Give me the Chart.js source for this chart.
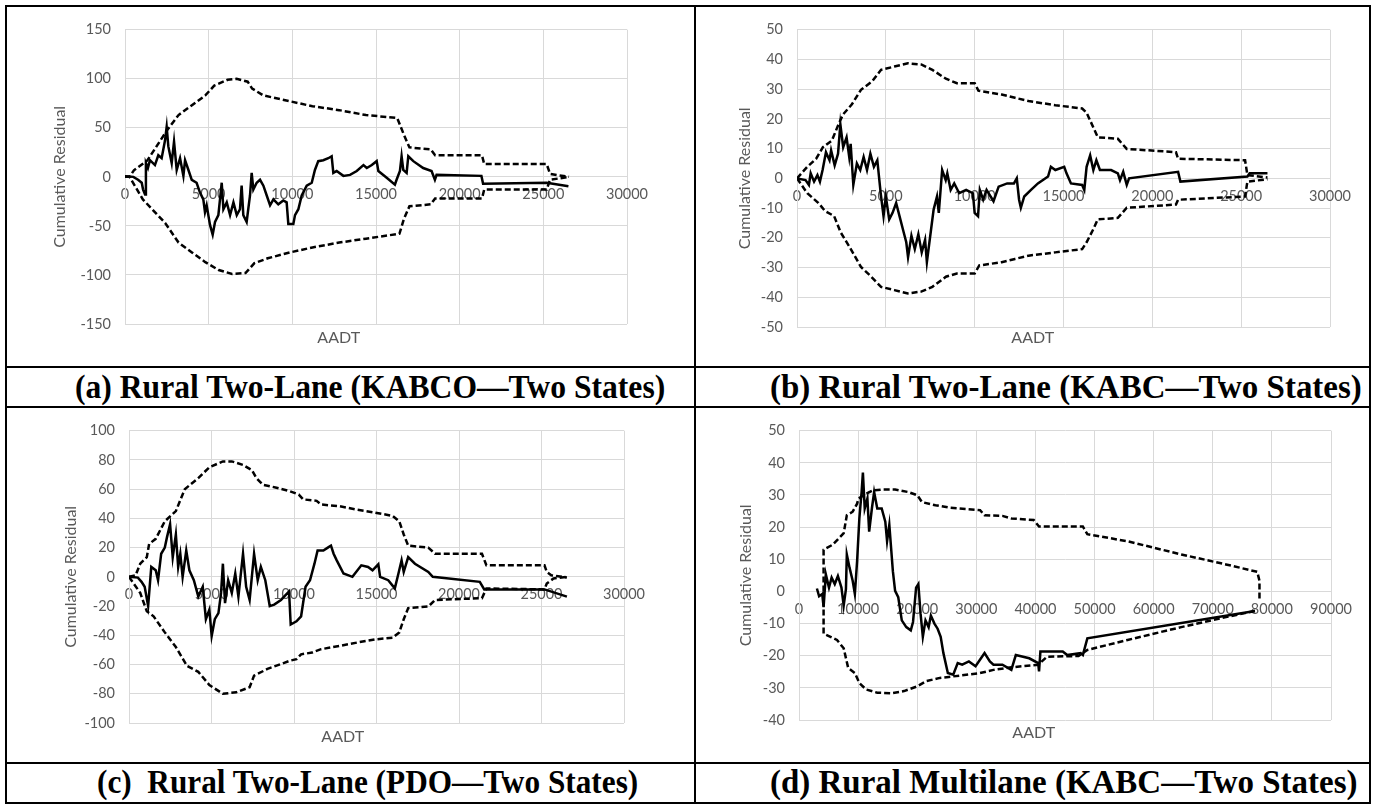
<!DOCTYPE html>
<html>
<head>
<meta charset="utf-8">
<script src="https://cdn.jsdelivr.net/npm/chart.js@4.4.1/dist/chart.umd.min.js"></script>
<style>
  html, body { margin: 0; padding: 0; background: #fff; }
  body { width: 1375px; height: 804px; position: relative; overflow: hidden; }
  .ln { position: absolute; background: #000; }
  canvas { position: absolute; }
  .cap { position: absolute; font-family: 'Liberation Serif', 'Times New Roman', serif; font-weight: bold;
         font-size: 34px; line-height: 34px; white-space: pre; color: #000; transform-origin: 0 0; }
</style>
</head>
<body>
<div class="ln" style="left:5px;top:5px;width:1366px;height:2px"></div>
<div class="ln" style="left:5px;top:366px;width:1366px;height:2px"></div>
<div class="ln" style="left:5px;top:406px;width:1366px;height:2px"></div>
<div class="ln" style="left:5px;top:762px;width:1366px;height:2px"></div>
<div class="ln" style="left:5px;top:802px;width:1366px;height:2px"></div>
<div class="ln" style="left:5px;top:5px;width:2px;height:799px"></div>
<div class="ln" style="left:694px;top:5px;width:2px;height:799px"></div>
<div class="ln" style="left:1369px;top:5px;width:2px;height:799px"></div>

<canvas id="cA"></canvas>
<canvas id="cB"></canvas>
<canvas id="cC"></canvas>
<canvas id="cD"></canvas>

<div class="cap" style="left:75px;top:370px;transform:scaleX(0.93)">(a) Rural Two-Lane (KABCO—Two States)</div>
<div class="cap" style="left:770px;top:370px;transform:scaleX(0.97)">(b) Rural Two-Lane (KABC—Two States)</div>
<div class="cap" style="left:97px;top:765px;transform:scaleX(0.92)">(c)  Rural Two-Lane (PDO—Two States)</div>
<div class="cap" style="left:770px;top:765px;transform:scaleX(0.97)">(d) Rural Multilane (KABC—Two States)</div>

<script>
// (a) Rural Two-Lane KABCO
var resA_x = [0,500,780,1000,1080,1200,1250,1370,1490,1790,1990,2190,2390,2490,2590,2790,2930,3090,3290,3490,3590,3790,3990,4280,4480,4680,4780,4880,5080,5240,5380,5580,5780,5880,6080,6280,6480,6680,6870,6970,7070,7270,7470,7570,7670,7870,8070,8270,8470,8670,8870,9160,9460,9660,9760,10060,10160,10360,10560,10860,11160,11350,11550,11850,12150,12350,12450,12650,13050,13450,13850,14250,14450,14750,15040,15140,15640,16130,16230,16430,16530,16630,16830,16930,17230,17820,18320,18520,18620,21300,21400,25200,26500];
var resA_y = [0.7,0,-3,-6,-13,-18,14,9,17,12,22,19,37,51,31,14,36,7,19,1,17,7,-3,-6,-16,-23,-36,-29,-49,-59,-46,-39,-6,-33,-26,-39,-26,-39,-33,-9,-39,-46,-19,4,-13,-6,-3,-9,-19,-29,-23,-28,-24,-26,-48,-48,-39,-33,-19,-9,-6,7,16,17,19,21,4,6,1,2,6,12,9,12,16,6,-1,-8,-3,6,21,7,4,21,16,9,6,-3,2,1,-7,-6,-9.5];
var upA_x = [0,270,533,1333,2533,3200,4000,4800,5333,6133,6667,7333,7600,8267,9867,11200,12800,14400,16267,16667,17000,18267,18533,21333,21467,25200,25400,26533];
var upA_y = [0,0,6.7,16.7,48,63,73,83,93,99,100,97,90,83,77,72,68,63,60,43,30,28,22,22,13,13,3,0];
var loA_x = [0,270,1067,2400,3200,4000,4800,5600,6400,7200,7733,8533,9867,11200,12800,14400,16400,16667,17000,18267,18533,21333,21467,25200,25400,26533];
var loA_y = [0,0,-23,-47,-67,-77,-87,-95,-99,-98,-88,-83,-77,-72,-67,-63,-58,-43,-30,-28,-22,-22,-13,-13,-3,0];

// (b) Rural Two-Lane KABC
var resB_x = [0,480,670,770,960,1150,1290,1440,1630,1830,1920,2120,2310,2440,2600,2790,2940,3020,3170,3370,3560,3750,3940,4130,4330,4520,4710,4870,5000,5190,5380,5580,5770,5960,6150,6250,6440,6630,6830,7020,7210,7310,7500,7690,7880,7980,8170,8370,8460,8650,8850,9130,9520,9900,10000,10190,10290,10480,10670,11060,11350,11830,12210,12370,12500,12600,12790,13170,13560,14130,14290,14540,15040,15170,15420,16050,16170,16300,16500,16680,16850,17050,17680,18060,18180,18360,18560,18690,21450,21580,25350,25480,26480];
var resB_y = [0,-0.6,-2.2,1.7,-1.1,1.1,-1.1,2.8,8.8,6.1,9.4,4.4,8.3,18.2,10.5,13.8,7.2,11.6,-2.2,5,2.8,7.2,2.8,8.3,3.9,6.1,-5,-12.7,-6.1,-13.8,-11.6,-8.3,-12.7,-17.1,-21.5,-26.5,-19.3,-23.8,-18.8,-24.9,-20.7,-28.2,-19.3,-10.5,-6.1,-11.6,2.8,-0.6,1.7,-3.9,-1.7,-5,-3.9,-5,-11.6,-12.7,-3.9,-7.2,-3.9,-7.7,-2.8,-1.7,-1.7,0,-7.2,-9.9,-6.1,-3.9,-1.7,0.6,3.9,2.8,3.9,1.7,-1.7,-2.2,-3.9,3.9,7.7,2.8,6.1,2.8,2.8,1.7,-0.6,2.2,-2.2,0,2.2,-1.1,0.6,1.7,1.7];
var upB_x = [0,580,1080,1460,1960,2340,2590,3090,3600,4230,4730,5480,6240,6990,7620,8380,9000,10000,10210,11520,12270,13030,14540,16050,16300,16680,16930,18060,18560,21330,21450,25220,25350,26480];
var upB_y = [0,3.9,6.6,10.5,12.7,18.2,21.5,24.9,29.8,32.6,36.5,37.6,38.7,38.3,36.5,33.5,32,32,29.5,28.2,27.1,26,24.6,23.5,22.1,17.1,13.8,13.3,9.9,8.8,6.6,6.1,1.1,0.3];
var loB_x = [0,580,1210,1580,2090,2460,2970,3600,4100,4730,5480,6240,6990,7620,8380,9000,10000,10260,11520,12270,13030,14540,16050,16300,16680,16930,18060,18560,21330,21450,25220,25350,26480];
var loB_y = [0,-5,-8.3,-11,-12.7,-18.2,-23.2,-29.8,-32.6,-36.5,-37.6,-38.7,-38.1,-36.5,-33.1,-32,-32,-29.3,-28.2,-27.1,-26,-24.9,-23.8,-21.5,-17.1,-13.8,-13.3,-9.9,-8.8,-7.2,-6.1,-1.1,-0.3];

// (c) Rural Two-Lane PDO
var resC_x = [0,540,760,950,1160,1350,1620,1760,1950,2170,2300,2490,2650,2840,2980,3110,3250,3470,3660,3930,4200,4470,4660,4870,5010,5200,5420,5580,5690,5820,6010,6230,6440,6630,6910,7100,7310,7580,7800,7990,8260,8530,8800,9210,9700,9800,10150,10430,10700,10970,11240,11430,11780,12050,12240,12400,12590,13000,13540,14080,14490,14760,15110,15220,15710,16110,16330,16520,16650,16920,17330,18140,18410,21260,21530,25180,26540];
var resC_y = [0,-0.5,-3.4,-6.8,-20,6.8,4.5,-2.3,15.8,20,27,36,13.5,29,6.8,15.8,0,18,4.5,-2.3,-13.5,-6.8,-29,-22.5,-40.5,-29,-24.8,-11,9,-18,-2.3,-11,2.3,-13.5,15.8,-6.8,-15.8,15.8,-2.3,6.8,-2.3,-20,-19,-15.8,-10,-32.6,-30.4,-27,-6.8,-2.3,9,18,18,20,21.4,15.8,11.3,2.3,0,7.9,6.8,4.5,8.6,0,-2.3,-7.9,2.3,11.3,3.4,13.5,9,3.4,0,-3.4,-8.6,-8.6,-13.5];
var upC_x = [0,400,680,1080,1220,1620,2170,2840,3380,4200,4870,5690,6230,6910,7450,7720,8120,8940,9750,10290,10560,11370,11640,12730,13810,14890,15980,16380,16650,16920,18140,18550,21390,21660,25180,25320,25590,26540];
var upC_y = [0,1,9,13.5,22.5,26,38,45,60,67.6,75,79,79,76.6,73,67.6,63,61,58.6,56.3,53,52,49.5,48.4,46,44,41.7,38,29,21.4,20,15.8,15.8,7.9,7.9,3.4,1.1,-0.5];
var loC_x = [0,680,1080,1490,2170,2840,3520,4200,4870,5690,6500,7310,7580,8390,9750,10150,10430,11100,11640,12730,13810,14890,15980,16380,16650,16920,18140,18550,21390,21660,25180,25320,25730,26540];
var loC_y = [0,-11,-23.6,-27,-38,-48,-61,-65,-74,-80,-79,-75.5,-67.6,-63,-57.4,-56.3,-53,-51.8,-49.5,-47.3,-45,-42.8,-41.7,-38,-29,-21.4,-20.3,-15.8,-14.6,-7.9,-8.6,-4.5,-1.1,0];

// (d) Rural Multilane KABC
var resD_x = [3030,3400,3930,4160,4540,5070,5520,6050,6580,7180,7560,7940,8090,8550,9080,9450,9830,10210,10590,10810,11120,11570,11870,12330,12710,13240,13990,14600,14900,15280,15880,16260,16790,17390,18150,18910,19290,19810,20190,20570,20950,21400,21930,22310,22910,23450,23970,24430,25180,26090,26850,27610,28740,29870,31390,32290,32900,34410,35920,36680,38950,40460,40610,40840,44620,45380,47650,48020,48780,77140];
var resD_y = [0.9,-1.5,-0.8,-4.9,5.3,1.2,4.3,2.3,4.8,1.2,-4.4,0.7,11.5,7.4,3.3,-0.8,9.4,22.7,30.9,37,25.8,28.9,18.6,25.8,30.9,25.8,25.8,21.7,15.6,20.7,6.3,0.2,-1.8,-9,-11.1,-12.1,-9.5,1.2,2.3,-7,-14.1,-9,-11.1,-7.5,-10,-11.6,-14.1,-19.2,-25.4,-25.9,-22.3,-22.8,-21.8,-23.3,-19.2,-21.8,-22.8,-22.8,-24.4,-19.8,-20.8,-22.3,-24.9,-18.7,-18.7,-19.8,-19.2,-19.8,-14.6,-6.1];
var upD_x = [4160,4160,5670,7560,8090,9080,9830,10060,11340,12480,13990,16260,18530,20040,20800,23070,25340,30630,31390,34410,35920,39710,40610,48020,48780,55590,64670,72230,77520,77900,77900];
var upD_y = [0,13,14.5,18.1,23.7,24.8,27.3,28.9,30.4,31.4,31.7,31.7,30.9,29.9,27.8,26.8,26.1,25.3,23.7,23.5,22.7,22.2,20.2,20.2,17.8,15.6,11.5,8.4,6.1,3.3,-2.9];
var loD_x = [4160,4160,6430,7560,8320,9450,10210,11340,13240,15500,17770,20040,21550,23820,25340,30630,32900,35920,40460,41970,47270,48780,55590,64670,72230,77140];
var loD_y = [0,-13.1,-15.1,-17.7,-23.8,-25.4,-28.5,-30.5,-31.5,-31.7,-31,-29.5,-27.9,-26.9,-26.6,-25.4,-24.4,-23.6,-22.8,-20.3,-20.1,-18.2,-15.1,-11.1,-8,-6.1];

var GRAY = '#595959';
var GRID = '#d9d9d9';
var FS = 14.5;          // tick labels
var TFS = 16;           // axis titles
var TLH = TFS * 1.2;

Chart.defaults.font.family = 'Lato, "Open Sans", sans-serif';
Chart.defaults.color = GRAY;

function pts(xs, ys) {
    return xs.map(function (x, i) { return { x: x, y: ys[i] }; });
}

function line(data, dash) {
    return {
        data: data, showLine: true, borderColor: '#000', borderWidth: 2.5,
        borderDash: dash, pointRadius: 0, fill: false, tension: 0
    };
}

function panel(id, cell, plot, titleX, aadtY, xMax, xStep, yMin, yMax, yStep, res, up, lo) {
    var cv = document.getElementById(id);
    cv.width = cell.w;
    cv.height = cell.h;
    cv.style.left = cell.x + 'px';
    cv.style.top = cell.y + 'px';
    var padLeft = titleX - cell.x - TLH / 2;
    var yWidth = plot.l - cell.x - padLeft;

    new Chart(cv, {
        type: 'scatter',
        data: { datasets: [line(up, [6, 3]), line(lo, [6, 3]), line(res, [])] },
        options: {
            responsive: false,
            animation: false,
            layout: { padding: { left: padLeft, top: plot.t - cell.y, right: cell.x + cell.w - plot.r, bottom: 0 } },
            plugins: {
                legend: { display: false },
                tooltip: { enabled: false },
                title: {
                    display: true, position: 'bottom', text: 'AADT', color: GRAY,
                    font: { size: TFS, weight: 'normal' },
                    padding: { top: aadtY - plot.b - TLH / 2, bottom: cell.y + cell.h - aadtY - TLH / 2 }
                }
            },
            scales: {
                x: {
                    type: 'linear', position: { y: 0 }, min: 0, max: xMax,
                    ticks: { stepSize: xStep, padding: 9, font: { size: FS }, maxRotation: 0, autoSkip: false,
                             callback: function (v) { return String(v); } },
                    grid: { color: GRID, drawTicks: false },
                    border: { color: GRID }
                },
                y: {
                    type: 'linear', min: yMin, max: yMax,
                    ticks: { stepSize: yStep, padding: 14, font: { size: FS },
                             callback: function (v) { return String(v); } },
                    grid: { color: GRID, drawTicks: false },
                    border: { color: GRID },
                    title: { display: true, text: 'Cumulative Residual', font: { size: TFS }, padding: 0 },
                    afterFit: function (s) { s.width = yWidth; }
                }
            }
        }
    });
}

panel('cA', { x: 7, y: 7, w: 687, h: 359 }, { l: 125, r: 627, t: 24, b: 324 }, 60, 338,
      30000, 5000, -150, 150, 50, pts(resA_x, resA_y), pts(upA_x, upA_y), pts(loA_x, loA_y));
panel('cB', { x: 696, y: 7, w: 673, h: 359 }, { l: 797, r: 1330, t: 25, b: 327 }, 745, 338,
      30000, 5000, -50, 50, 10, pts(resB_x, resB_y), pts(upB_x, upB_y), pts(loB_x, loB_y));
panel('cC', { x: 7, y: 408, w: 687, h: 354 }, { l: 129, r: 624, t: 427, b: 723 }, 71, 737,
      30000, 5000, -100, 100, 20, pts(resC_x, resC_y), pts(upC_x, upC_y), pts(loC_x, loC_y));
panel('cD', { x: 696, y: 408, w: 673, h: 354 }, { l: 799, r: 1331, t: 427, b: 720 }, 746, 733,
      90000, 10000, -40, 50, 10, pts(resD_x, resD_y), pts(upD_x, upD_y), pts(loD_x, loD_y));
</script>
</body>
</html>
